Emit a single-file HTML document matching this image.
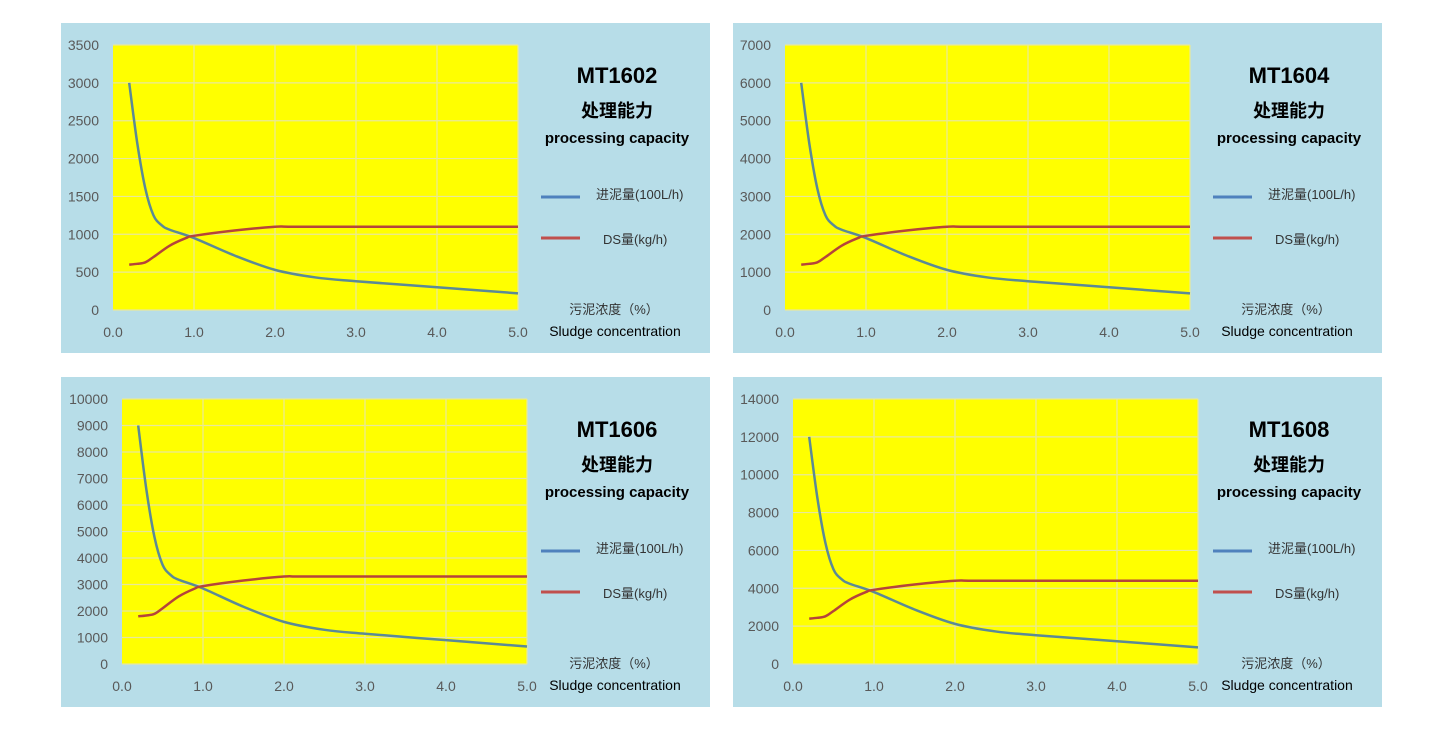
<!DOCTYPE html>
<html><head><meta charset="utf-8">
<style>
body{margin:0;background:#fff;width:1441px;height:730px;overflow:hidden;font-family:"Liberation Sans","Noto Sans CJK SC",sans-serif;}
svg{position:absolute;left:0;top:0}
</style></head>
<body>
<svg id="c" width="1441" height="730" xmlns="http://www.w3.org/2000/svg"></svg>
<script>
const xTicks=[0,1,2,3,4,5];
const xLabels=["0.0","1.0","2.0","3.0","4.0","5.0"];
const feedX=[0.2,0.3,0.4,0.5,0.6,0.7,1.0,1.5,2.0,2.5,3.0,4.0,5.0];
const feedBase=[3000,2200,1600,1250,1120,1060,950,720,530,430,380,300,220];
const dsX=[0.2,0.3,0.4,0.5,0.7,0.9,1.0,1.5,2.0,2.2,3.0,4.0,5.0];
const dsBase=[600,610,630,700,850,950,980,1050,1100,1100,1100,1100,1100];
const models=["MT1602","MT1604","MT1606","MT1608"];
const factors=[1,2,3,4];
const yMaxes=[3500,7000,10000,14000];
const yStepsArr=[500,1000,1000,2000];
const panels=[{x:61,y:23,pl:52},{x:733,y:23,pl:52},{x:61,y:377,pl:61},{x:733,y:377,pl:60}];
const NS="http://www.w3.org/2000/svg";
const svg=document.getElementById('c');
function mk(tag,attrs,parent,text){const e=document.createElementNS(NS,tag);for(const k in attrs)e.setAttribute(k,attrs[k]);if(text!==undefined)e.textContent=text;(parent||svg).appendChild(e);return e;}
function smooth(pts){let d=`M${pts[0][0]},${pts[0][1]}`;for(let i=0;i<pts.length-1;i++){const p0=pts[i-1]||pts[i],p1=pts[i],p2=pts[i+1],p3=pts[i+2]||p2;const c1=[p1[0]+(p2[0]-p0[0])/6,p1[1]+(p2[1]-p0[1])/6],c2=[p2[0]-(p3[0]-p1[0])/6,p2[1]-(p3[1]-p1[1])/6];d+=` C${c1[0]},${c1[1]} ${c2[0]},${c2[1]} ${p2[0]},${p2[1]}`;}return d;}
panels.forEach((p,i)=>{
  const g=mk('g',{});
  
  
  const bg=mk('rect',{x:p.x,y:p.y,width:649,height:330,fill:'#b7dde8'},g);
  
  const L=p.x+p.pl,T=p.y+22,W=405,H=265,B=T+H;
  const sx=v=>L+v/5*W, sy=v=>B-v/yMaxes[i]*H;
  const pa=mk('rect',{x:L,y:T,width:W,height:H,fill:'#ffff00'},g);
  
  for(let v=0;v<=yMaxes[i];v+=yStepsArr[i]){
    const gl=mk('line',{x1:L,x2:L+W,y1:sy(v),y2:sy(v),stroke:'#e8e89a','stroke-width':1.2},g);
    
    const t=mk('text',{x:L-14,y:sy(v)+5,'text-anchor':'end','font-size':14,fill:'#595959'},g,String(v));
    
  }
  xTicks.forEach((v,k)=>{
    if(v>0){const gl=mk('line',{x1:sx(v),x2:sx(v),y1:T,y2:B,stroke:'#e8e89a','stroke-width':1.2},g);
    }
    const t=mk('text',{x:sx(v),y:B+27,'text-anchor':'middle','font-size':14,fill:'#595959'},g,xLabels[k]);
    
  });
  const fp=feedX.map((x,k)=>[sx(x),sy(feedBase[k]*factors[i])]);
  const dp=dsX.map((x,k)=>[sx(x),sy(dsBase[k]*factors[i])]);
  const l1=mk('path',{d:smooth(fp),fill:'none',stroke:'#5b8a96','stroke-width':2.5},g);
  
  const l2=mk('path',{d:smooth(dp),fill:'none',stroke:'#b5443a','stroke-width':2.5},g);
  
  const cx=p.x+556;
  const t1=mk('text',{x:cx,y:p.y+60,'text-anchor':'middle','font-size':22,'font-weight':'bold',fill:'#000'},g,models[i]);
  
  const t2=mk('text',{x:cx,y:p.y+94,'text-anchor':'middle','font-size':18,'font-weight':'bold',fill:'#000'},g,'处理能力');
  
  const t3=mk('text',{x:cx,y:p.y+120,'text-anchor':'middle','font-size':15,'font-weight':'bold',fill:'#000'},g,'processing capacity');
  
  const ll1=mk('line',{x1:p.x+480,x2:p.x+519,y1:p.y+174,y2:p.y+174,stroke:'#4f81bd','stroke-width':3},g);
  
  const lt1=mk('text',{x:p.x+535,y:p.y+176,'font-size':13,fill:'#333'},g,'进泥量(100L/h)');
  
  const ll2=mk('line',{x1:p.x+480,x2:p.x+519,y1:p.y+215,y2:p.y+215,stroke:'#c0504d','stroke-width':3},g);
  
  const lt2=mk('text',{x:p.x+542,y:p.y+221,'font-size':13,fill:'#333'},g,'DS量(kg/h)');
  
  const a1=mk('text',{x:cx-3,y:p.y+291,'text-anchor':'middle','font-size':13,fill:'#333'},g,'污泥浓度（%）');
  
  const a2=mk('text',{x:cx-2,y:p.y+313,'text-anchor':'middle','font-size':14,fill:'#000'},g,'Sludge  concentration');
  
});
</script>
</body></html>
